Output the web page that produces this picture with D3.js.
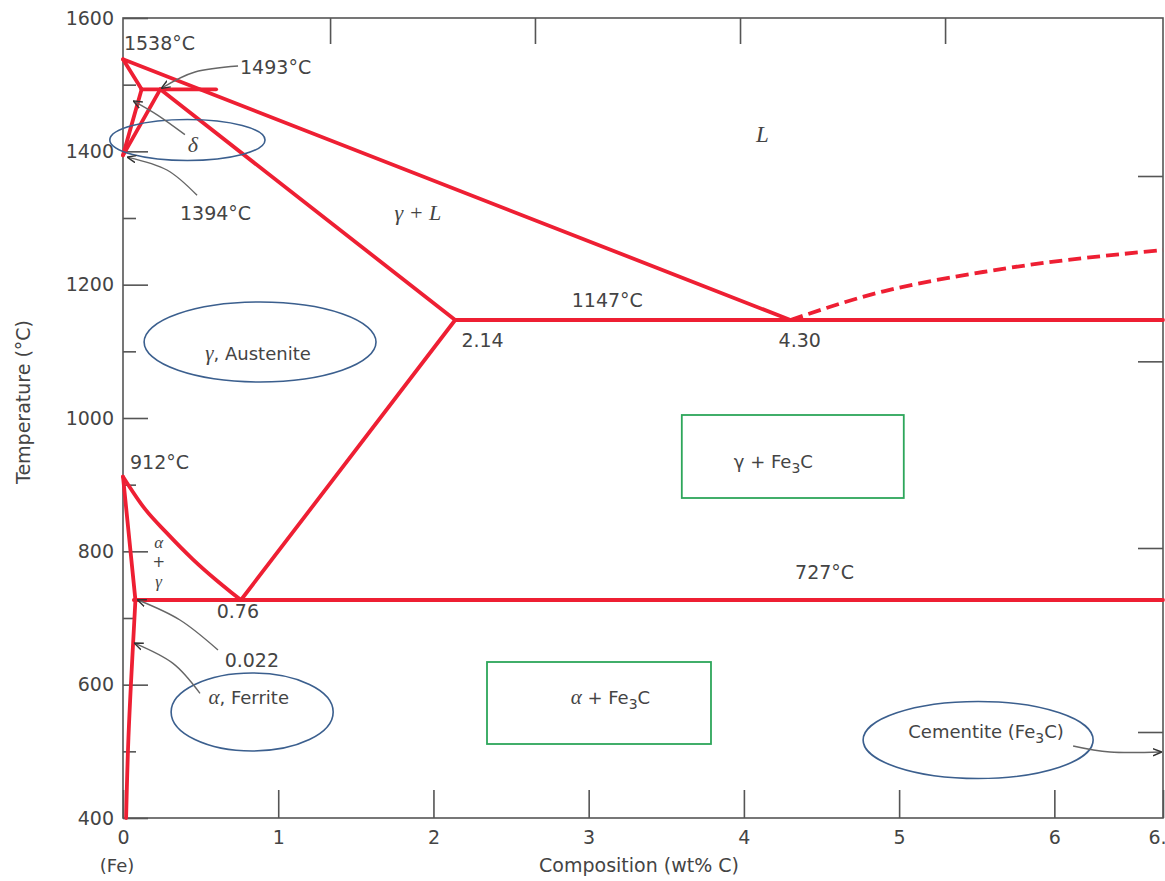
<!DOCTYPE html>
<html><head><meta charset="utf-8">
<script src="https://cdn.jsdelivr.net/npm/d3@7"></script>
<style>body{margin:0;background:#fff}svg{display:block}</style>
</head><body><svg id="c" width="1165" height="881"></svg>
<script>
// ---------- data (wt% C, °C) ----------
const xTickValues = [0, 1, 2, 3, 4, 5, 6, 6.7];
const xTickLabels = ["0", "1", "2", "3", "4", "5", "6", "6.7"];
const yTickValues = [400, 600, 800, 1000, 1200, 1400, 1600];
const yMinorTicks = [500, 700, 900, 1100, 1300, 1500];
const topTicks = [1.334, 2.654, 3.975, 5.296];
const rightTicks = [1363, 1085, 805, 529];

const liquidus = [[0, 1538], [4.30, 1147]];
const deltaLiquidus = [[0, 1538], [0.12, 1493]];
const peritectic = [[0.12, 1493], [0.60, 1493]];
const deltaSolvus = [[0.12, 1493], [0, 1394]];
const gammaDelta = [[0.24, 1493], [0, 1394]];
const solidus = [[0.24, 1493], [2.14, 1147]];
const eutectic = [[2.14, 1147], [6.7, 1147]];
const cementiteLiquidus = [[4.30, 1147], [4.9, 1190], [5.54, 1219], [6.08, 1237], [6.7, 1252]];
const acm = [[0.76, 727], [2.14, 1147]];
const a3 = [[0, 912], [0.14, 864], [0.28, 828], [0.45, 788], [0.60, 757], [0.70, 738], [0.76, 727]];
const eutectoid = [[0.07, 727], [6.7, 727]];
const alphaGamma = [[0, 912], [0.08, 727]];
const alphaSolvus = [[0.08, 727], [0.06, 640], [0.035, 520], [0.02, 400]];

const solidLines = [liquidus, deltaLiquidus, peritectic, deltaSolvus, gammaDelta, solidus,
  eutectic, acm, eutectoid, alphaGamma];

// annotation texts: [text, wt, T, anchor]
const labels = [
  ["1538°C", 0.006, 1562, "start"],
  ["1493°C", 0.754, 1526, "start"],
  ["1394°C", 0.367, 1307, "start"],
  ["1147°C", 3.12, 1177, "middle"],
  ["2.14", 2.18, 1117, "start"],
  ["4.30", 4.36, 1117, "middle"],
  ["727°C", 4.52, 769, "middle"],
  ["912°C", 0.045, 934, "start"],
  ["0.76", 0.74, 710, "middle"],
  ["0.022", 0.83, 637, "middle"]
];
const greekLabels = [
  ["δ", 0.45, 1409, 22],
  ["L", 4.12, 1424, 23],
  ["α", 0.23, 813, 17],
  ["γ", 0.23, 754, 17]
];
const plusLabels = [["+", 0.23, 785]];

// ellipses: [cx wt, cy T, half width wt, half height T]
const ellipses = [
  [0.415, 1417, 0.50, 30.75],
  [0.883, 1114, 0.747, 60],
  [0.832, 559, 0.522, 58.5],
  [5.509, 517, 0.741, 57.75]
];
// boxes: [wt0, T0, wt1, T1]
const boxes = [
  [3.60, 1004.5, 5.03, 880],
  [2.345, 634, 3.788, 511]
];
// arrows: from, via, to
const arrows = [
  [[0.741, 1528], [0.464, 1519], [0.251, 1495]],
  [[0.399, 1425], [0.225, 1454], [0.071, 1475]],
  [[0.477, 1334], [0.283, 1372], [0.032, 1391]],
  [[0.612, 652], [0.367, 697], [0.097, 727]],
  [[0.496, 587], [0.322, 632], [0.077, 662]],
  [[6.121, 508], [6.359, 499], [6.687, 499]]
];

// ---------- drawing ----------
const svg = d3.select("#c");
const x = d3.scaleLinear().domain([0, 6.7]).range([123, 1163]);
const y = d3.scaleLinear().domain([400, 1600]).range([818, 18]);
const RED = "#ee1f33", GREY = "#555", TXT = "#444";
const SANS = "'DejaVu Sans', Verdana, sans-serif";
const SERIF = "'Liberation Serif', 'Times New Roman', serif";

const defs = svg.append("defs");
defs.append("marker").attr("id", "ah").attr("viewBox", "0 0 10 10").attr("refX", 9).attr("refY", 5)
  .attr("markerWidth", 9).attr("markerHeight", 9).attr("orient", "auto-start-reverse")
  .attr("markerUnits", "userSpaceOnUse")
  .append("path").attr("d", "M0,1 L10,5 L0,9").attr("fill", "none").attr("stroke", "#333").attr("stroke-width", 1.6);

function styleAxis(g) {
  g.select(".domain").remove();
  g.selectAll(".tick line").attr("stroke", GREY).attr("stroke-width", 1.6);
  g.selectAll(".tick text").attr("fill", TXT).style("font-family", SANS).style("font-size", "19px");
}

svg.append("g").attr("transform", `translate(0,${y(400)})`)
  .call(d3.axisBottom(x).tickValues(xTickValues).tickFormat((d, i) => xTickLabels[i]).tickSize(-28).tickPadding(13))
  .call(styleAxis);
svg.append("g").attr("transform", `translate(${x(0)},0)`)
  .call(d3.axisLeft(y).tickValues(yTickValues).tickFormat(d3.format("d")).tickSize(-25).tickPadding(9))
  .call(styleAxis);
svg.append("g").attr("transform", `translate(${x(0)},0)`)
  .call(d3.axisLeft(y).tickValues(yMinorTicks).tickFormat("").tickSize(-13))
  .call(styleAxis);
svg.append("g").attr("transform", `translate(0,${y(1600)})`)
  .call(d3.axisTop(x).tickValues(topTicks).tickFormat("").tickSize(-26))
  .call(styleAxis);
svg.append("g").attr("transform", `translate(${x(6.7)},0)`)
  .call(d3.axisRight(y).tickValues(rightTicks).tickFormat("").tickSize(-25))
  .call(styleAxis);

svg.append("rect").attr("x", x(0)).attr("y", y(1600)).attr("width", x(6.7) - x(0)).attr("height", y(400) - y(1600))
  .attr("fill", "none").attr("stroke", GREY).attr("stroke-width", 1.6);

// axis titles
svg.append("text").attr("transform", `translate(23,${(y(1600) + y(400)) / 2 - 16}) rotate(-90)`)
  .attr("text-anchor", "middle").attr("dy", "0.35em").attr("fill", TXT)
  .style("font-family", SANS).style("font-size", "19px").text("Temperature (°C)");
svg.append("text").attr("x", 639).attr("y", 872).attr("text-anchor", "middle").attr("fill", TXT)
  .style("font-family", SANS).style("font-size", "19px").text("Composition (wt% C)");
svg.append("text").attr("x", 117).attr("y", 872).attr("text-anchor", "middle").attr("fill", TXT)
  .style("font-family", SANS).style("font-size", "18px").text("(Fe)");

// phase boundaries
const line = d3.line().x(d => x(d[0])).y(d => y(d[1]));
const curve = d3.line().x(d => x(d[0])).y(d => y(d[1])).curve(d3.curveNatural);
const mono = d3.line().x(d => x(d[0])).y(d => y(d[1])).curve(d3.curveMonotoneX);
const phase = svg.append("g").attr("fill", "none").attr("stroke", RED).attr("stroke-width", 3.8)
  .attr("stroke-linejoin", "round").attr("stroke-linecap", "round");
solidLines.forEach(l => phase.append("path").attr("d", line(l)));
phase.append("path").attr("d", mono(a3));
phase.append("path").attr("d", curve(alphaSolvus));
phase.append("path").attr("d", curve(cementiteLiquidus)).attr("stroke-dasharray", "13,6").attr("stroke-linecap", "butt");

// ellipses & boxes
svg.append("g").selectAll("ellipse").data(ellipses).join("ellipse")
  .attr("cx", d => x(d[0])).attr("cy", d => y(d[1]))
  .attr("rx", d => x(d[2]) - x(0)).attr("ry", d => y(400) - y(400 + d[3]))
  .attr("fill", "none").attr("stroke", "#3b5f8e").attr("stroke-width", 1.6);
svg.append("g").selectAll("rect").data(boxes).join("rect")
  .attr("x", d => x(d[0])).attr("y", d => y(d[1]))
  .attr("width", d => x(d[2]) - x(d[0])).attr("height", d => y(d[3]) - y(d[1]))
  .attr("fill", "none").attr("stroke", "#2da65a").attr("stroke-width", 1.8);

// arrows
svg.append("g").selectAll("path").data(arrows).join("path")
  .attr("d", d => curve(d)).attr("fill", "none").attr("stroke", "#666").attr("stroke-width", 1.4)
  .attr("marker-end", "url(#ah)");

// texts
svg.append("g").selectAll("text").data(labels).join("text")
  .attr("x", d => x(d[1])).attr("y", d => y(d[2])).attr("dy", "0.35em")
  .attr("text-anchor", d => d[3]).attr("fill", TXT)
  .style("font-family", SANS).style("font-size", "19px").text(d => d[0]);
svg.append("g").selectAll("text").data(greekLabels).join("text")
  .attr("x", d => x(d[1])).attr("y", d => y(d[2])).attr("dy", "0.3em")
  .attr("text-anchor", "middle").attr("fill", TXT)
  .style("font-family", SERIF).style("font-style", "italic").style("font-size", d => d[3] + "px").text(d => d[0]);
svg.append("g").selectAll("text").data(plusLabels).join("text")
  .attr("x", d => x(d[1])).attr("y", d => y(d[2])).attr("dy", "0.35em")
  .attr("text-anchor", "middle").attr("fill", TXT)
  .style("font-family", SANS).style("font-size", "15px").text(d => d[0]);

function mixed(wt, T, parts, size) {
  const t = svg.append("text").attr("x", x(wt)).attr("y", y(T)).attr("dy", "0.35em")
    .attr("text-anchor", "middle").attr("fill", TXT).style("font-size", size + "px");
  parts.forEach(p => {
    const s = t.append("tspan").text(p[0]);
    if (p[1] === "g") s.style("font-family", SERIF).style("font-style", "italic").style("font-size", (size + 3) + "px");
    else s.style("font-family", SANS);
    if (p[1] === "sub") s.style("font-size", (size - 4) + "px").attr("dy", "5");
    if (p[1] === "after") s.attr("dy", "-5");
  });
}
mixed(0.87, 1097, [["γ", "g"], [", Austenite", "s"]], 18);
mixed(0.81, 580, [["α", "g"], [", Ferrite", "s"]], 18);
mixed(4.19, 934, [["γ + Fe", "s"], ["3", "sub"], ["C", "after"]], 18);
mixed(3.14, 581, [["α", "g"], [" + Fe", "s"], ["3", "sub"], ["C", "after"]], 18);
mixed(5.56, 529, [["Cementite (Fe", "s"], ["3", "sub"], ["C)", "after"]], 18);
mixed(1.90, 1307, [["γ + ", "g"], ["L", "g"]], 19);
</script></body></html>
